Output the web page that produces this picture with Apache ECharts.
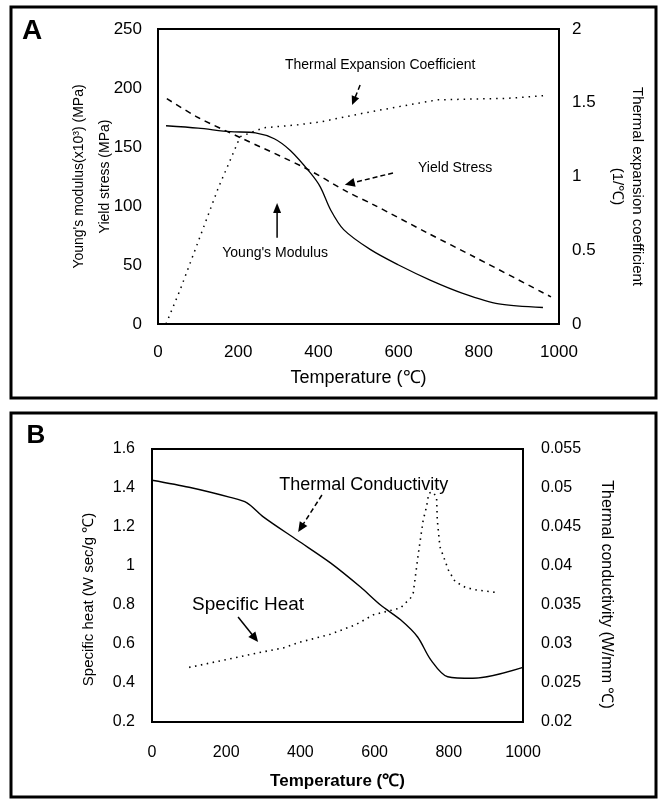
<!DOCTYPE html>
<html><head><meta charset="utf-8">
<script src="https://cdn.jsdelivr.net/npm/echarts@6/dist/echarts.min.js"></script>
<style>html,body{margin:0;padding:0;background:#fff}#c{width:658px;height:802px}</style>
</head><body><div id="c"></div>
<script>
// ---------- Panel A data ----------
const ymTemp  = [20,100,180,243,290,330,380,405,430,463,530,600,680,760,850,960];
const ymValue = [168,166,163,162,157,147,128,116,97,80,63,50,37,26,17,14];
const ysTemp  = [22,100,205,368,472,538,673,788,980];
const ysValue = [191,175,158,132,112,101,77,57,23];
const teTemp  = [20,55,150,205,263,347,405,513,655,697,872,972];
const teValue = [0,0.23,0.92,1.27,1.33,1.35,1.37,1.43,1.50,1.52,1.53,1.55];
// ---------- Panel B data ----------
const shTemp  = [100,200,300,354,400,481,550,597,670,697,704,718,731,740,746,756,767,769,776,799,817,845,875,933];
const shValue = [0.48,0.52,0.56,0.58,0.61,0.65,0.70,0.75,0.785,0.836,0.86,1.065,1.236,1.304,1.373,1.38,1.355,1.236,1.099,0.979,0.92,0.89,0.877,0.863];
const tcTemp  = [0,100,211,256,300,392,481,562,616,670,716,751,797,865,1000];
const tcValue = [0.0510,0.0501,0.0488,0.0481,0.0463,0.0433,0.0404,0.0373,0.0350,0.0331,0.0309,0.0280,0.0258,0.0256,0.0270];

const FONT = 'Liberation Sans, Arial, sans-serif';
function pairs(a, b) { return a.map((v, i) => [v, b[i]]); }
function plain(v) { return String(+v.toFixed(4)); }

const chart = echarts.init(document.getElementById('c'), null, {renderer: 'canvas'});

function xAx(grid, fs, margin, name, gap, bold, nfs) {
  return {gridIndex: grid, type: 'value', min: 0, max: 1000, interval: 200,
    axisLine: {lineStyle: {color: '#000', width: 2}}, axisTick: {show: false}, splitLine: {show: false},
    axisLabel: {color: '#000', fontSize: fs, fontFamily: FONT, margin: margin, formatter: plain},
    name: name, nameLocation: 'middle', nameGap: gap, nameMoveOverlap: false,
    nameTextStyle: {color: '#000', fontSize: nfs, fontFamily: FONT, fontWeight: bold ? 'bold' : 'normal'}};
}
function yAx(grid, pos, min, max, interval, fs, margin, name, gap, rot, nfs, lh, pad) {
  return {gridIndex: grid, type: 'value', position: pos, min: min, max: max, interval: interval,
    axisLine: {show: true, lineStyle: {color: '#000', width: 2}}, axisTick: {show: false}, splitLine: {show: false},
    axisLabel: {color: '#000', fontSize: fs, fontFamily: FONT, margin: margin, formatter: plain},
    name: name, nameLocation: 'middle', nameGap: gap, nameRotate: rot, nameMoveOverlap: false,
    nameTextStyle: {color: '#000', fontSize: nfs, fontFamily: FONT, lineHeight: lh, padding: pad}};
}

const option = {
  animation: false,
  backgroundColor: '#fff',
  grid: [
    {left: 158, top: 29, width: 401, height: 295, show: true, borderColor: '#000', borderWidth: 2},
    {left: 152, top: 449, width: 371, height: 273, show: true, borderColor: '#000', borderWidth: 2}
  ],
  xAxis: [
    xAx(0, 17, 20, 'Temperature (℃)', 45, false, 18),
    xAx(1, 16, 23, 'Temperature (℃)', 51, true, 17)
  ],
  yAxis: [
    yAx(0, 'left', 0, 250, 50, 17, 16, "Young's modulus(x10³) (MPa)\nYield stress (MPa)", 40, 90, 14, 26, [0, 0, 0, 0]),
    yAx(0, 'right', 0, 2, 0.5, 17, 13, 'Thermal expansion coefficient\n(1/℃)', 48, -90, 15, 20, [0, 0, 0, 20]),
    yAx(1, 'left', 0.2, 1.6, 0.2, 16, 17, 'Specific heat (W sec/g ℃)', 56, 90, 15, 15, [0, 28, 0, 0]),
    yAx(1, 'right', 0.02, 0.055, 0.005, 16, 18, 'Thermal conductivity (W/mm ℃)', 75, -90, 16, 16, [0, 0, 0, 18])
  ],
  series: [
    {type: 'line', xAxisIndex: 0, yAxisIndex: 0, data: pairs(ymTemp, ymValue), symbol: 'none', smooth: 0.3,
      lineStyle: {color: '#000', width: 1.3, type: 'solid'}},
    {type: 'line', xAxisIndex: 0, yAxisIndex: 0, data: pairs(ysTemp, ysValue), symbol: 'none', smooth: 0.3,
      lineStyle: {color: '#000', width: 1.5, type: [6, 5]}},
    {type: 'line', xAxisIndex: 0, yAxisIndex: 1, data: pairs(teTemp, teValue), symbol: 'none', smooth: false,
      lineStyle: {color: '#000', width: 1.5, type: [1.5, 5]}},
    {type: 'line', xAxisIndex: 1, yAxisIndex: 2, data: pairs(shTemp, shValue), symbol: 'none', smooth: false,
      lineStyle: {color: '#000', width: 1.6, type: [1.5, 4.5]}},
    {type: 'line', xAxisIndex: 1, yAxisIndex: 3, data: pairs(tcTemp, tcValue), symbol: 'none', smooth: 0.3,
      lineStyle: {color: '#000', width: 1.4, type: 'solid'}}
  ]
};
chart.setOption(option);

// ---------- annotations (positioned in data space) ----------
function pA(x, y) { return chart.convertToPixel({xAxisIndex: 0, yAxisIndex: 0}, [x, y]); }
function pB(x, y) { return chart.convertToPixel({xAxisIndex: 1, yAxisIndex: 2}, [x, y]); }
function arrow(p0, p1, dashed, hl, hw) {
  const dx = p1[0] - p0[0], dy = p1[1] - p0[1];
  const L = Math.hypot(dx, dy), ux = dx / L, uy = dy / L;
  const bx = p1[0] - ux * hl, by = p1[1] - uy * hl;
  return [
    {type: 'line', shape: {x1: p0[0], y1: p0[1], x2: bx + ux * 2, y2: by + uy * 2},
      style: {stroke: '#000', lineWidth: 1.5, lineDash: dashed ? [5, 3] : null}},
    {type: 'polygon', shape: {points: [[p1[0], p1[1]], [bx - uy * hw, by + ux * hw], [bx + uy * hw, by - ux * hw]]},
      style: {fill: '#000'}}
  ];
}
function txt(p, s, fs, bold) {
  return {type: 'text', x: p[0], y: p[1],
    style: {text: s, fontSize: fs, fontFamily: FONT, fontWeight: bold ? 'bold' : 'normal', fill: '#000',
      align: 'center', verticalAlign: 'middle'}};
}
const g = [];
g.push({type: 'rect', shape: {x: 11, y: 7, width: 645, height: 391}, style: {fill: null, stroke: '#000', lineWidth: 3}});
g.push({type: 'rect', shape: {x: 11, y: 413, width: 645, height: 384}, style: {fill: null, stroke: '#000', lineWidth: 3}});
g.push(txt([32, 31], 'A', 28, true));
g.push(txt([36, 436], 'B', 26, true));
g.push(txt(pA(554, 219.5), 'Thermal Expansion Coefficient', 14));
g.push(...arrow(pA(504, 202.5), pA(484, 185.6), true, 9, 4));
g.push(txt(pA(741, 132.5), 'Yield Stress', 14));
g.push(...arrow(pA(586, 128), pA(466, 118), true, 10, 4.5));
g.push(txt(pA(292, 60), "Young's Modulus", 14));
g.push(...arrow(pA(297, 73), pA(297, 102.5), false, 10, 4));
g.push(txt(pB(571, 1.415), 'Thermal Conductivity', 18));
g.push(...arrow(pB(458, 1.364), pB(394, 1.174), true, 10, 4.5));
g.push(txt(pB(259, 0.8), 'Specific Heat', 19));
g.push(...arrow(pB(232, 0.738), pB(286, 0.610), false, 10, 4.5));
chart.setOption({graphic: g});
</script></body></html>
